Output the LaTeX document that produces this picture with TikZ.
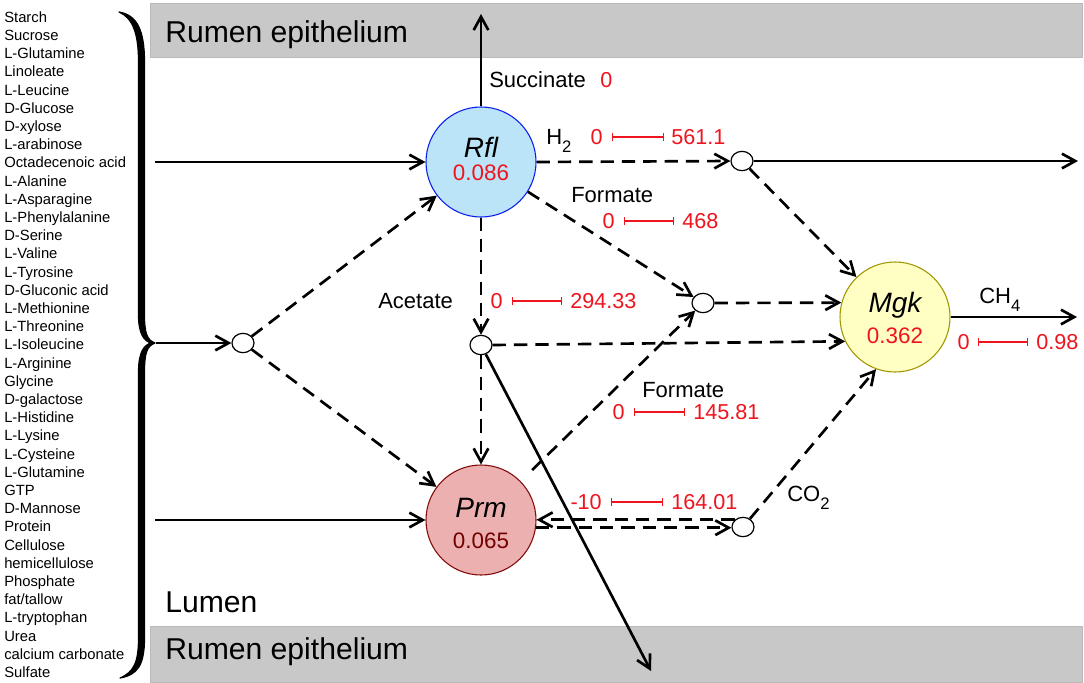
\documentclass[tikz,border=0pt]{standalone}
\usepackage{fontspec}
\setmainfont{Liberation Sans}
\usetikzlibrary{arrows.meta,shapes.geometric,calc}
\definecolor{rred}{RGB}{240,20,30}
\definecolor{barg}{RGB}{200,200,200}
\definecolor{bard}{RGB}{185,185,185}
\definecolor{rflf}{RGB}{188,228,248}
\definecolor{rfld}{RGB}{10,30,240}
\definecolor{prmf}{RGB}{236,176,176}
\definecolor{prmd}{RGB}{130,10,10}
\definecolor{prmv}{RGB}{115,0,0}
\definecolor{mgkf}{RGB}{255,255,196}
\definecolor{mgkd}{RGB}{160,150,0}
\newcommand\mysub[1]{\raisebox{-6pt}{\fontsize{12.5}{13}\selectfont #1}}
\tikzset{
  lbl/.style={inner sep=0pt, text height=11.9pt, text depth=0pt, anchor=west, font=\fontsize{16.5}{18}\selectfont},
  num/.style={lbl, text=rred, text height=11.6pt, font=\fontsize{16.2}{18}\selectfont},
  item/.style={inner sep=0pt, text height=8pt, text depth=0pt, anchor=west, font=\fontsize{11.1}{13}\selectfont},
  big/.style={inner sep=0pt, text height=16.2pt, text depth=0pt, anchor=west, font=\fontsize{22.6}{25}\selectfont},
  org/.style={circle, minimum size=82.5pt, inner sep=0pt, line width=0.8pt},
  oname/.style={inner sep=0pt, text height=15pt, text depth=0pt, font=\fontsize{21}{24}\selectfont\itshape},
  oval/.style={inner sep=0pt, text height=12pt, text depth=0pt, font=\fontsize{16.8}{19}\selectfont},
  junc/.style={ellipse, draw, fill=white, line width=0.9pt, minimum width=16.5pt, minimum height=14.5pt, inner sep=0pt},
  conn/.style={line width=2pt, -{Straight Barb[length=10pt,width=11pt]}},
  dconn/.style={conn, dash pattern=on 10pt off 6pt},
  rbar/.style={draw=rred, line width=0.8pt, {Bar[width=6pt]}-{Bar[width=6pt]}},
  bar/.style={fill=barg, draw=bard, line width=0.75pt}
}
\begin{document}
\begin{tikzpicture}[x=0.75pt,y=-0.75pt]
\fill[white] (0,0) rectangle (1084,682);
\useasboundingbox (0,0) rectangle (1084,682);
% epithelium bars
\path[bar] (150,3) rectangle (1082,57);
\path[bar] (150,626) rectangle (1082,682);
\node[big] (ep1) at (165,32) {Rumen epithelium};
\node[big] (ep2) at (165,649) {Rumen epithelium};
\node[big] (lum) at (165,602) {Lumen};
% substrate list
\foreach \t [count=\i from 0] in {Starch,Sucrose,L-Glutamine,Linoleate,L-Leucine,D-Glucose,D-xylose,L-arabinose,Octadecenoic acid,L-Alanine,L-Asparagine,L-Phenylalanine,D-Serine,L-Valine,L-Tyrosine,D-Gluconic acid,L-Methionine,L-Threonine,L-Isoleucine,L-Arginine,Glycine,D-galactose,L-Histidine,L-Lysine,L-Cysteine,L-Glutamine,GTP,D-Mannose,Protein,Cellulose,hemicellulose,Phosphate,fat/tallow,L-tryptophan,Urea,calcium carbonate,Sulfate}
  \node[item] (it\i) at (4,{17+18.2*\i}) {\t};
% brace (tapered)
\filldraw[line width=0.9pt, line join=round]
  (119,12) .. controls (137,15) and (144.5,30) .. (144.5,62) -- (144.5,315)
  .. controls (144.5,333) and (147,340) .. (155,343)
  .. controls (147,346) and (144.5,353) .. (144.5,372) -- (144.5,638)
  .. controls (144.5,666) and (137,675) .. (120,678)
  .. controls (134,672) and (138.5,662) .. (138.5,638) -- (138.5,372)
  .. controls (138.5,352) and (144,345) .. (151,343)
  .. controls (144,341) and (138.5,334) .. (138.5,315) -- (138.5,62)
  .. controls (138.5,34) and (133,18) .. (119,12) -- cycle;
\coordinate (tip) at (156,343);
\coordinate (inR) at (155,162);
\coordinate (inP) at (155,520);
\coordinate (outS) at (481,14);
\coordinate (outH) at (1078,161);
\coordinate (outC) at (1077,317);
\coordinate (endA) at (651,671);
% organisms
\node[org, fill=rflf, draw=rfld] (Rfl) at (481,162) {};
\node[oname] (Rfl-n) at (481,147) {Rfl};
\node[oval, text=rred] (Rfl-v) at (481,172) {0.086};
\node[org, fill=prmf, draw=prmd] (Prm) at (481,520) {};
\node[oname] (Prm-n) at (481,507) {Prm};
\node[oval, text=prmv] (Prm-v) at (481,540) {0.065};
\node[org, fill=mgkf, draw=mgkd] (Mgk) at (895,317) {};
\node[oname] (Mgk-n) at (895,302) {Mgk};
\node[oval, text=rred] (Mgk-v) at (895,335) {0.362};
% junctions
\node[junc] (J0) at (243,343) {};
\node[junc] (JH) at (742,161) {};
\node[junc] (JF) at (703,303) {};
\node[junc] (JA) at (481,345) {};
\node[junc] (JC) at (743,527) {};
% connectors
\draw[conn] (inR) -- (Rfl.west);
\draw[conn] (tip) -- (J0.west);
\draw[conn] (inP) -- (Prm.west);
\draw[dconn] (J0) -- (Rfl);
\draw[dconn] (J0) -- (Prm);
\draw[conn] (Rfl.north) -- (outS);
\draw[dconn] (Rfl.east) -- (JH.west);
\draw[conn] (JH.east) -- (outH);
\draw[dconn] (JH) -- (Mgk.134);
\draw[dconn] (Rfl) -- (JF);
\draw[dconn] (Rfl.south) -- (JA.north);
\draw[dconn] (JA.south) -- (Prm.north);
\draw[dconn] (JF.east) -- (Mgk.165);
\draw[dconn] (JA.east) -- (Mgk.206);
\draw[conn] (JA) -- (endA);
\draw[dconn, shorten <=12pt] (Prm) -- (JF);
\draw[dconn] (JC.north west) -- (JC.north west -| Prm.east);
\draw[dconn] (Prm.-8) -- (Prm.-8 -| JC.west);
\draw[dconn] (JC) -- (Mgk.250);
\draw[conn] (Mgk.east) -- (outC);
% labels
\node[lbl] (suc) at (489,80) {Succinate};
\node[num] (suc-v) at (600,80) {0};
\node[lbl] (h2) at (546,137) {H\mysub{2}};
\node[lbl] (for1) at (571,195) {Formate};
\node[lbl] (ace) at (378,301) {Acetate};
\node[lbl] (for2) at (642,390) {Formate};
\node[lbl] (co2) at (787,494) {CO\mysub{2}};
\node[lbl] (ch4) at (979,296) {CH\mysub{4}};
% ranges
\node[num, anchor=east] (r1a) at (603,137) {0};
\node[num] (r1b) at (671,137) {561.1};
\draw[rbar] ($(r1a.east)+(9,0)$) -- ($(r1b.west)+(-7,0)$);
\node[num, anchor=east] (r2a) at (615,221) {0};
\node[num] (r2b) at (682,221) {468};
\draw[rbar] ($(r2a.east)+(9,0)$) -- ($(r2b.west)+(-8,0)$);
\node[num, anchor=east] (r3a) at (503,301) {0};
\node[num] (r3b) at (570,301) {294.33};
\draw[rbar] ($(r3a.east)+(9,0)$) -- ($(r3b.west)+(-8,0)$);
\node[num, anchor=east] (r4a) at (625,412) {0};
\node[num] (r4b) at (693,412) {145.81};
\draw[rbar] ($(r4a.east)+(9,0)$) -- ($(r4b.west)+(-8,0)$);
\node[num, anchor=east] (r5a) at (602,502) {-10};
\node[num] (r5b) at (671,502) {164.01};
\draw[rbar] ($(r5a.east)+(9,0)$) -- ($(r5b.west)+(-8,0)$);
\node[num, anchor=east] (r6a) at (970,342) {0};
\node[num] (r6b) at (1036,342) {0.98};
\draw[rbar] ($(r6a.east)+(8,0)$) -- ($(r6b.west)+(-8,0)$);
\end{tikzpicture}
\end{document}
